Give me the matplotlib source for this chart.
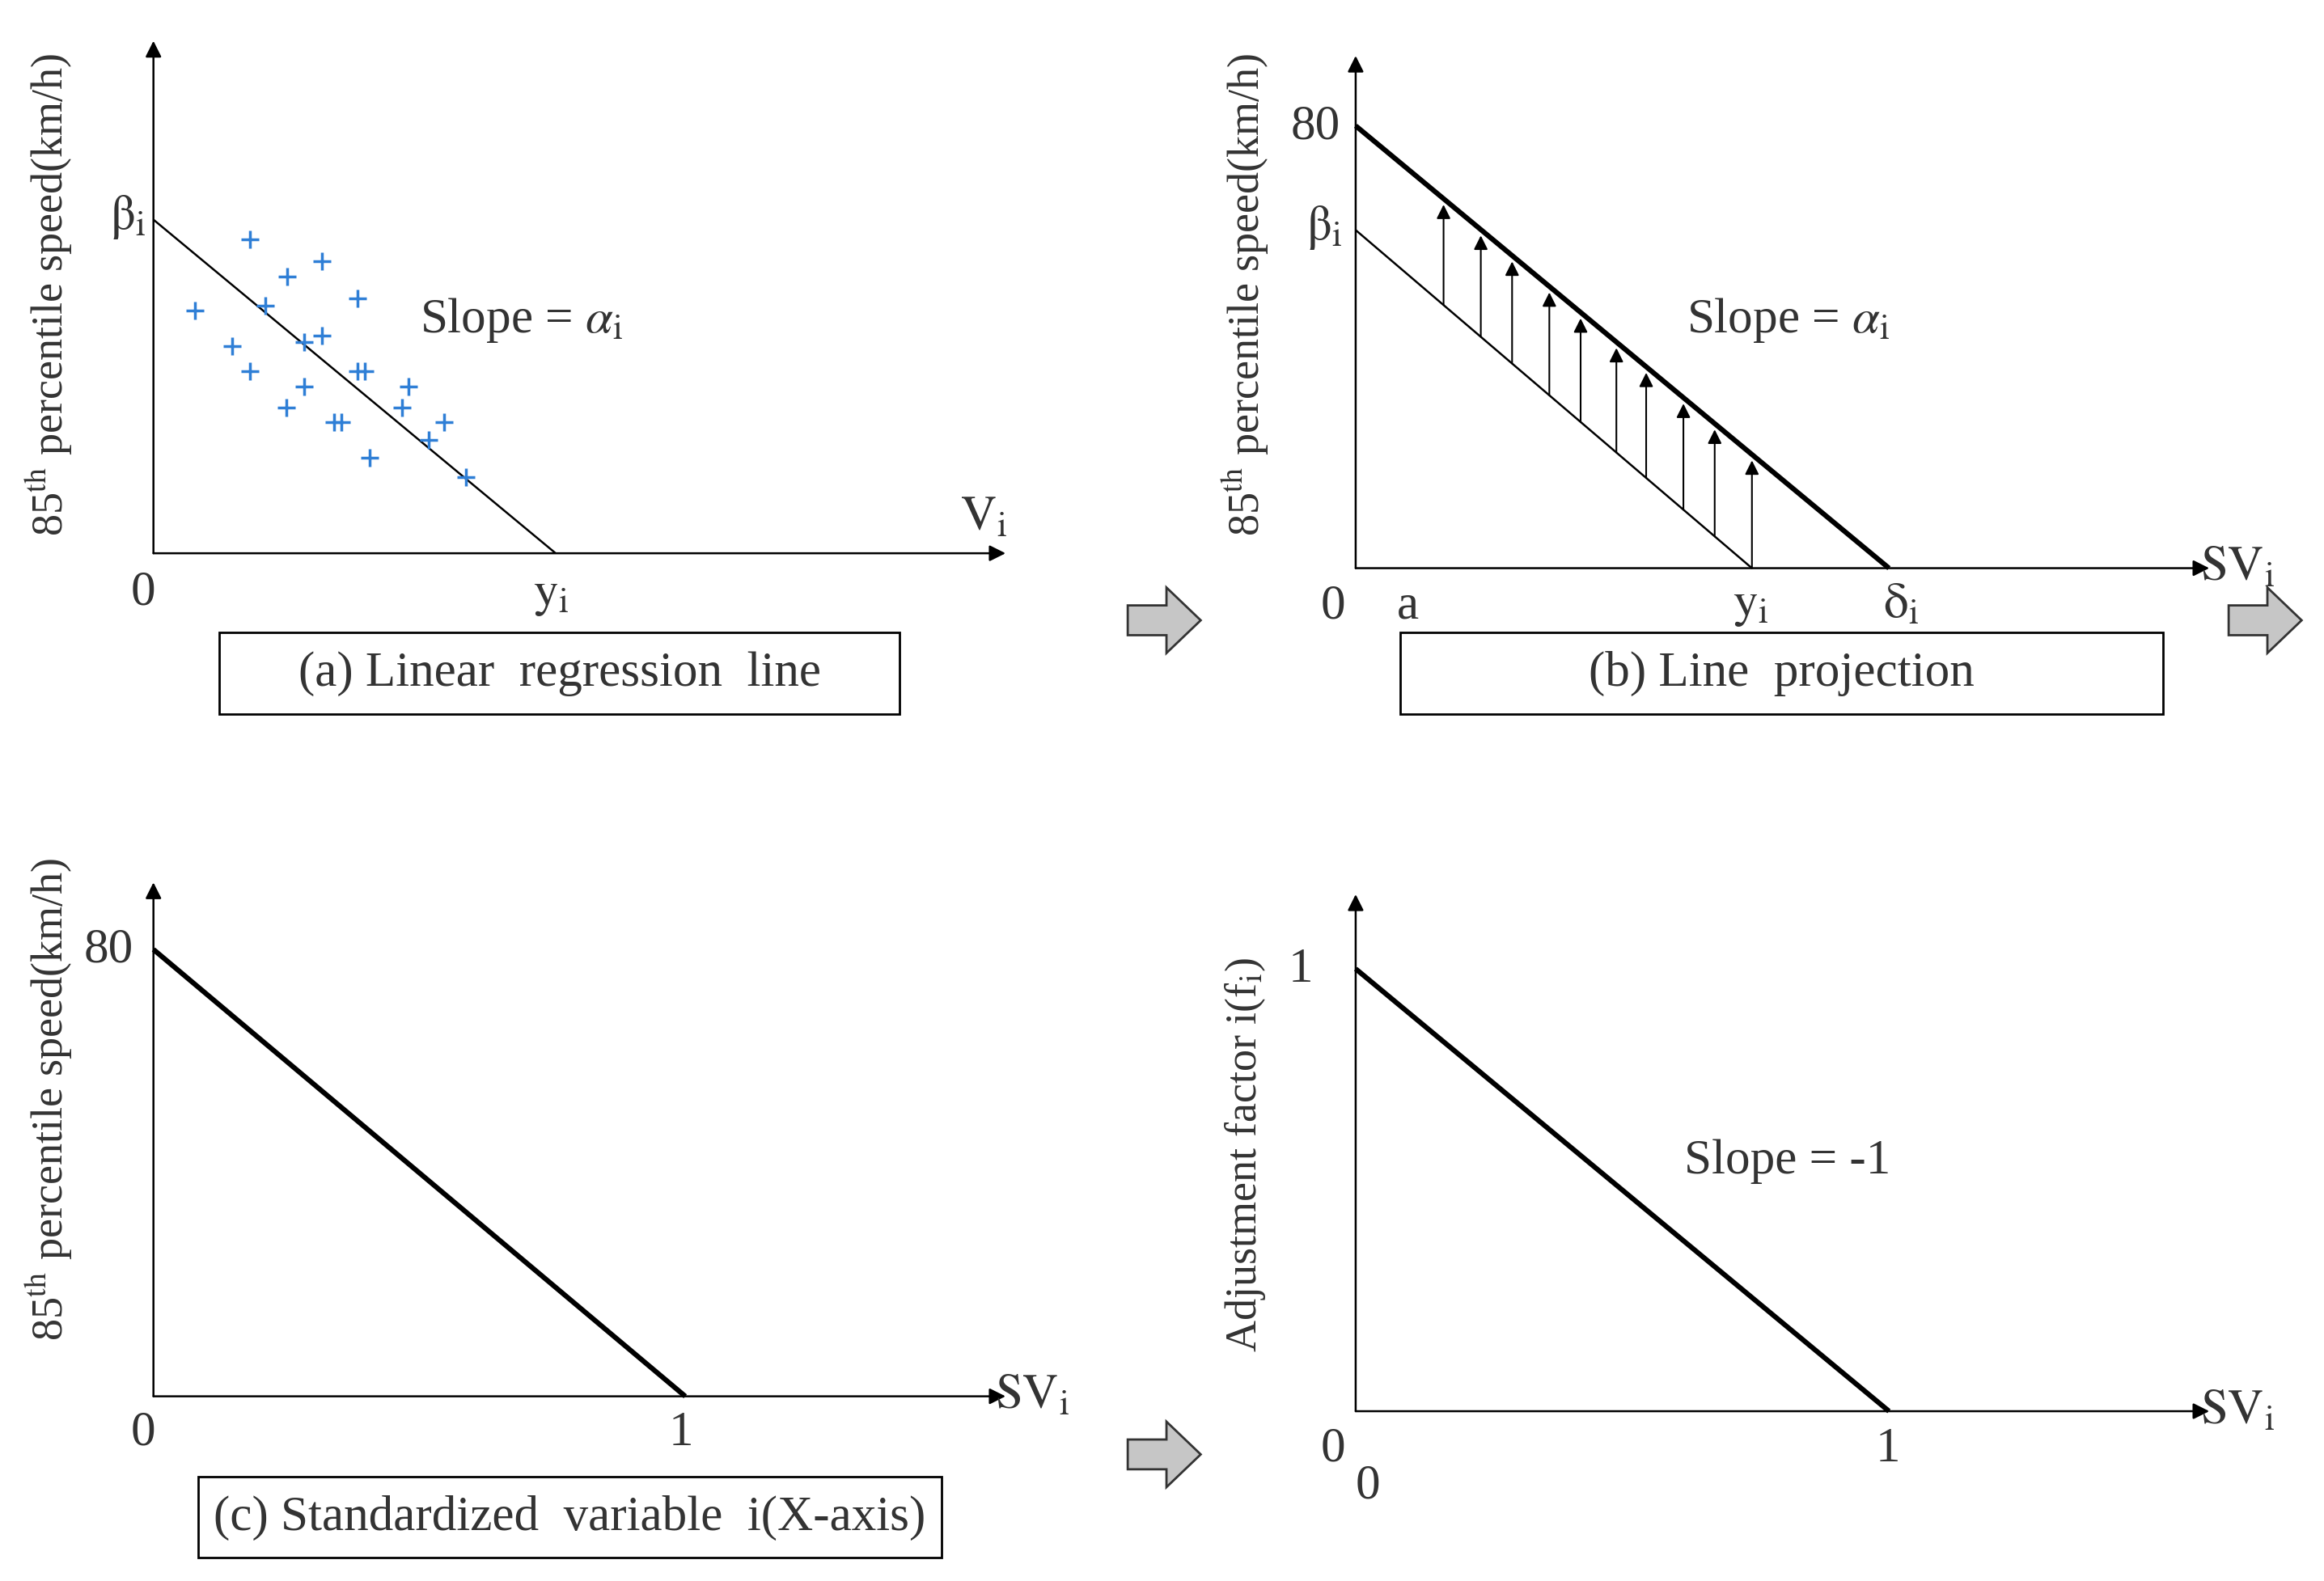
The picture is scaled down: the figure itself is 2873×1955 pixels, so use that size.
import matplotlib
matplotlib.use("Agg")
import matplotlib.pyplot as plt
from matplotlib.patches import Rectangle, Polygon

plt.rcParams['mathtext.fontset'] = 'stix'
plt.rcParams['font.family'] = ['Liberation Serif', 'DejaVu Serif']

# Panel (a) scatter points (panel pixel coordinates of the reference, x right, y down)
scatter_x = [168,216,193,131,178,240,156,204,216,168,240,245,274,204,270,192,224,229,298,288,248,313]
scatter_y = [161,176,186,209,206,201,233,230,226,250,250,250,260,260,274,274,284,284,284,296,308,321]
# Panel (b) projection arrows x positions
proj_x = [969,994,1015,1040,1061,1085,1105,1130,1151,1176]

W, H = 1560, 1062
fig = plt.figure(figsize=(28.73, 19.56), dpi=100)
ax = fig.add_axes([0, 0, 1, 1])
ax.set_xlim(0, W); ax.set_ylim(H, 0); ax.axis('off')
TC = '#333333'
FS = 44
YFS = 39

def axes_arrows(ox, oy, top, right):
    for end in [(ox, top), (right, oy)]:
        ax.annotate('', xy=end, xytext=(ox, oy),
                    arrowprops=dict(arrowstyle='-|>', lw=1.8, color='black', mutation_scale=30,
                                    shrinkA=0, shrinkB=0))

def line(p, q, lw):
    ax.plot([p[0], q[0]], [p[1], q[1]], color='black', lw=lw, solid_capstyle='butt')

def t(x, y, s, fs=FS, **kw):
    ax.text(x, y, s, fontsize=fs, color=TC, ha=kw.pop('ha', 'center'), va=kw.pop('va', 'center'), **kw)

def box(x0, y0, x1, y1, s):
    ax.add_patch(Rectangle((x0, y0), x1 - x0, y1 - y0, fill=False, lw=2, ec='black'))
    t((x0 + x1) / 2, (y0 + y1) / 2, s)

def block(x, y):
    pts = [(x, y + 12), (x + 26, y + 12), (x + 26, y), (x + 49, y + 22), (x + 26, y + 44),
           (x + 26, y + 32), (x, y + 32)]
    ax.add_patch(Polygon(pts, closed=True, fc='#c6c6c6', ec='#333333', lw=2))

ylab = r'85$^{\mathrm{th}}$ percentile speed(km/h)'
sub = lambda b: r'$\mathrm{%s}_{\mathrm{i}}$' % b
beta = r'$\mathrm{\beta}_{\mathrm{i}}$'

# (a)
axes_arrows(103, 372, 28, 675)
line((103, 148), (373, 372), 1.8)
ax.scatter(scatter_x, scatter_y, marker='+', s=260, color='#2f7fd6', linewidths=2.5, zorder=3)
t(33, 198, ylab, fs=YFS, rotation=90)
t(86, 146, beta)
t(96, 398, '0')
t(370, 400, sub('y'))
t(660, 348, sub('V'))
t(350, 215, r'Slope = $\alpha_{\mathrm{i}}$')
box(147, 425, 604, 480, '(a) Linear  regression  line')

# (b)
axes_arrows(910, 382, 38, 1483)
line((910, 85), (1268, 382), 4.5)
line((910, 155), (1176, 382), 1.8)
for x in proj_x:
    ylow = 155 + (x - 910) * (382 - 155) / (1176 - 910)
    yhigh = 85 + (x - 910) * (382 - 85) / (1268 - 910)
    ax.annotate('', xy=(x, yhigh + 4), xytext=(x, ylow),
                arrowprops=dict(arrowstyle='-|>', lw=1.5, color='black', mutation_scale=26,
                                shrinkA=0, shrinkB=0))
t(836, 198, ylab, fs=YFS, rotation=90)
t(883, 85, '80')
t(889, 153, beta)
t(895, 407, '0'); t(945, 407, 'a')
t(1175, 407, sub('y'))
t(1276, 407, r'$\mathrm{\delta}_{\mathrm{i}}$')
t(1502, 382, sub('SV'))
t(1200, 215, r'Slope = $\alpha_{\mathrm{i}}$')
box(940, 425, 1452, 480, '(b) Line  projection')
block(757, 395); block(1496, 395)

# (c)
axes_arrows(103, 938, 593, 675)
line((103, 638), (460, 938), 4.5)
t(33, 738, ylab, fs=YFS, rotation=90)
t(73, 638, '80'); t(96, 962, '0'); t(457, 962, '1')
t(693, 938, sub('SV'))
box(133, 992, 632, 1046, '(c) Standardized  variable  i(X-axis)')
block(757, 955)

# (d)
axes_arrows(910, 948, 601, 1483)
line((910, 651), (1268, 948), 4.5)
t(836, 775, r'Adjustment factor i(f$_{\mathrm{i}}$)', fs=YFS, rotation=90)
t(873, 651, '1'); t(895, 973, '0'); t(918, 998, '0'); t(1267, 973, '1')
t(1502, 948, sub('SV'))
t(1200, 780, 'Slope = -1')

fig.savefig('out.png', dpi=100)
